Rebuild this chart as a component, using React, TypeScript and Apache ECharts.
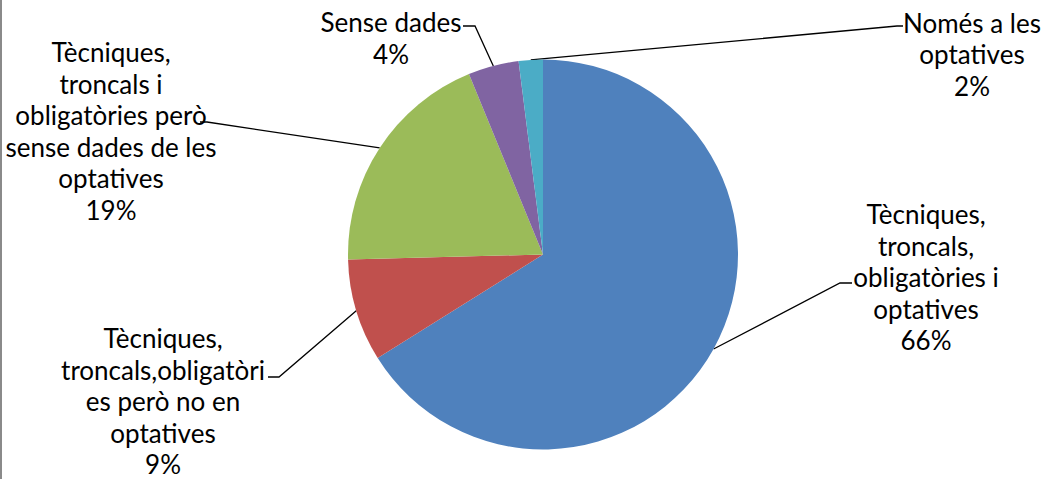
import React, { useEffect, useRef } from "react";
import * as echarts from "echarts";

const categories = [
  "Tècniques,\ntroncals,\nobligatòries i\noptatives",
  "Tècniques,\ntroncals,obligatòri\nes però no en\noptatives",
  "Tècniques,\ntroncals i\nobligatòries però\nsense dades de les\noptatives",
  "Sense dades",
  "Només a les\noptatives",
];
const values = [66.1, 8.5, 19.2, 4.2, 2.0];
const colors = ["#4F81BD", "#C0504D", "#9BBB59", "#8064A2", "#4BACC6"];

// label block centres and leader-line knee/end points (layout only)
const labelPos = [
  { x: 926, y: 277, knee: [840, 283], end: [852, 283] },
  { x: 163, y: 401, knee: [279, 377], end: [268, 377] },
  { x: 111, y: 131, knee: [207, 122], end: [200, 122] },
  { x: 391, y: 38, knee: [475, 26], end: [463, 26] },
  { x: 972, y: 54, knee: [897, 26], end: [903, 26] },
];

export default function App() {
  const ref = useRef<HTMLDivElement>(null);
  useEffect(() => {
    if (!ref.current) return;
    const chart = echarts.init(ref.current, undefined, { renderer: "svg" });
    chart.setOption({
      animation: false,
      backgroundColor: "#ffffff",
      graphic: [
        {
          type: "line",
          shape: { x1: 1, y1: 0, x2: 1, y2: 479 },
          style: { stroke: "#8a8a8a", lineWidth: 2 },
        },
      ],
      series: [
        {
          type: "pie",
          center: [543, 254.5],
          radius: 195,
          startAngle: 90,
          clockwise: true,
          data: categories.map((name, i) => ({
            name,
            value: values[i],
            itemStyle: { color: colors[i] },
          })),
          label: {
            show: true,
            position: "outside",
            formatter: (p: any) => `${p.name}\n${Math.round(p.percent)}%`,
            fontFamily: "Lato",
            fontSize: 26,
            lineHeight: 31.5,
            color: "#000000",
            align: "center",
          },
          labelLine: {
            show: true,
            length: 20,
            length2: 10,
            lineStyle: { color: "#000000", width: 1.3 },
          },
          labelLayout: (params: any) => {
            const lp = labelPos[params.dataIndex];
            const start = params.labelLinePoints
              ? params.labelLinePoints[0]
              : [lp.knee[0], lp.knee[1]];
            return {
              x: lp.x,
              y: lp.y,
              align: "center",
              verticalAlign: "middle",
              hideOverlap: false,
              labelLinePoints: [start, lp.knee, lp.end],
            };
          },
          emphasis: { disabled: true },
        },
      ],
    });
    return () => chart.dispose();
  }, []);
  return (
    <div
      ref={ref}
      style={{ position: "fixed", left: 0, top: 0, width: 1041, height: 479 }}
    />
  );
}
